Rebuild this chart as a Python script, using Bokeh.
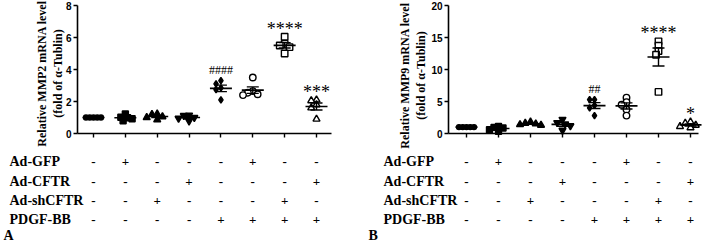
import numpy as np
from bokeh.plotting import figure
from bokeh.models import Range1d, FixedTicker, Label, LinearAxis
from bokeh.layouts import row
from bokeh.embed import file_html
from bokeh.resources import INLINE

# ---------------- data ----------------
groups = [1, 2, 3, 4, 5, 6, 7, 8]
row_names = ["Ad-GFP", "Ad-CFTR", "Ad-shCFTR", "PDGF-BB"]
ad_gfp    = ["-", "+", "-", "-", "-", "+", "-", "-"]
ad_cftr   = ["-", "-", "-", "+", "-", "-", "-", "+"]
ad_shcftr = ["-", "-", "+", "-", "-", "-", "+", "-"]
pdgf_bb   = ["-", "-", "-", "-", "+", "+", "+", "+"]

mmp2 = [
    [1.00, 1.00, 1.00, 1.00, 1.00],
    [1.22, 1.02, 0.98, 0.92, 0.80],
    [1.22, 1.20, 1.05, 1.00, 0.85],
    [1.15, 1.12, 1.00, 0.95, 0.78],
    [3.30, 3.10, 2.85, 2.75, 2.10],
    [3.50, 2.65, 2.55, 2.45, 2.40],
    [6.05, 5.60, 5.50, 5.40, 5.00],
    [2.10, 2.05, 1.80, 1.60, 0.90],
]
mmp2_marks = ["", "", "", "", "####", "", "****", "***"]
mmp2_ticks = [0, 2, 4, 6, 8]

mmp9 = [
    [1.00, 1.00, 1.00, 1.00, 1.00],
    [1.10, 0.95, 0.85, 0.60, 0.35],
    [1.80, 1.60, 1.50, 1.40, 1.30],
    [2.20, 1.70, 1.50, 1.20, 0.50],
    [5.30, 5.30, 4.40, 4.00, 2.80],
    [5.60, 4.90, 4.50, 3.75, 2.80],
    [14.4, 13.7, 12.9, 12.3, 6.50],
    [1.80, 1.60, 1.30, 1.10, 0.90],
]
mmp9_marks = ["", "", "", "", "##", "", "****", "*"]
mmp9_ticks = [0, 5, 10, 15, 20]

# ---------------- styles ----------------
markers = ["circle", "square", "triangle", "inverted_triangle", "diamond", "circle", "square", "triangle"]
filled = [True, True, True, True, True, False, False, False]
msizes = [5, 6, 7, 7, 6.5, 6.5, 6.5, 7]

SERIF = "Liberation Serif"
SANS = "Liberation Sans"
FIG_H = 243
Y0_PX = 133     # canvas y of value 0
YTOP_PX = 5     # canvas y of top tick


def swarm(vals, pxx, pxy, d):
    vals = np.asarray(vals, float)
    order = np.argsort(-vals, kind="stable")
    cands = sorted([k * d * 0.5 for k in range(-10, 11)], key=abs)
    placed = []
    offs = np.zeros(len(vals))
    for i in order:
        yp = vals[i] * pxy
        chosen = 0.0
        for c in cands:
            if all((c - xq) ** 2 + (yp - yq) ** 2 >= (0.9 * d) ** 2 for xq, yq in placed):
                chosen = c
                break
        placed.append((chosen, yp))
        offs[i] = chosen / pxx
    return offs


def lab(p, x, y, text, size, align="center", baseline="middle", bold=True, angle=0.0,
        font=SERIF, y_offset=0):
    p.add_layout(Label(x=x, y=y, text=text, text_align=align, text_baseline=baseline,
                       angle=angle, text_font=font, text_font_size=size,
                       text_font_style="bold" if bold else "normal",
                       text_color="black", y_offset=y_offset))


def make_panel(values, marks, ticks, width, g1_px, g8_px, axis_px, axis_end_px,
               ylab1, ylab2, yl1_px, yl2_px, yl_cy, rowlab_px, letter, letter_px):
    ymax = ticks[-1]
    pxx = (g8_px - g1_px) / (groups[-1] - groups[0])
    pxy = (Y0_PX - YTOP_PX) / ymax

    def px2x(px):
        return groups[0] + (px - g1_px) / pxx

    def py2y(py):
        return (Y0_PX - py) / pxy

    p = figure(width=width, height=FIG_H, output_backend="svg", toolbar_location=None,
               x_range=Range1d(px2x(0), px2x(width)), y_range=Range1d(py2y(FIG_H), py2y(0)),
               x_axis_type=None, y_axis_type=None,
               min_border_left=0, min_border_right=0, min_border_top=0, min_border_bottom=0)
    p.outline_line_color = None
    p.grid.visible = False
    p.background_fill_color = "white"
    p.border_fill_color = "white"

    x_axis_loc = px2x(axis_px)
    yax = LinearAxis(fixed_location=x_axis_loc, bounds=(0, ymax),
                     ticker=FixedTicker(ticks=ticks))
    xax = LinearAxis(fixed_location=0, bounds=(x_axis_loc, px2x(axis_end_px)),
                     ticker=FixedTicker(ticks=[], minor_ticks=groups))
    for ax in (xax, yax):
        ax.axis_line_width = 1.6
        ax.major_tick_line_width = 1.4
        ax.major_tick_out = 4
        ax.major_tick_in = 0
        ax.minor_tick_line_width = 1.4
        ax.minor_tick_out = 4
        ax.minor_tick_in = 0
    yax.minor_tick_line_color = None
    yax.major_label_text_font = SANS
    yax.major_label_text_font_style = "bold"
    yax.major_label_text_font_size = "10px"
    yax.major_label_text_color = "black"
    yax.major_label_standoff = 2
    p.add_layout(yax, "left")
    p.add_layout(xax, "below")

    # points, mean and SEM
    for gi, (g, vals) in enumerate(zip(groups, values)):
        v = np.asarray(vals, float)
        offs = swarm(v, pxx, pxy, msizes[gi] * 0.75)
        p.scatter(x=g + offs, y=v, marker=markers[gi], size=msizes[gi],
                  fill_color="black" if filled[gi] else "white",
                  line_color="black", line_width=1.4)
        m = v.mean()
        sem = v.std(ddof=1) / np.sqrt(len(v))
        hw = 11 / pxx
        cw = 6 / pxx
        p.segment(x0=[g - hw], x1=[g + hw], y0=[m], y1=[m], line_color="black", line_width=1.6)
        p.segment(x0=[g], x1=[g], y0=[m - sem], y1=[m + sem], line_color="black", line_width=1.4)
        p.segment(x0=[g - cw, g - cw], x1=[g + cw, g + cw], y0=[m - sem, m + sem],
                  y1=[m - sem, m + sem], line_color="black", line_width=1.4)
        if marks[gi]:
            star = "*" in marks[gi]
            lab(p, g, v.max(), marks[gi], "18px" if star else "12px", baseline="bottom",
                bold=False, y_offset=-2 if star else 4)

    # y axis label (two lines)
    lab(p, px2x(yl1_px), py2y(yl_cy), ylab1, "12px", angle=np.pi / 2)
    lab(p, px2x(yl2_px), py2y(yl_cy), ylab2, "12px", angle=np.pi / 2)

    # treatment table
    row_pys = [161, 181, 200, 219]
    for name, signs, py in zip(row_names, [ad_gfp, ad_cftr, ad_shcftr, pdgf_bb], row_pys):
        lab(p, px2x(rowlab_px), py2y(py), name, "14px", align="left")
        for g, s in zip(groups, signs):
            lab(p, g, py2y(py), s, "13px")
    lab(p, px2x(letter_px), py2y(235), letter, "14px", align="left")
    return p


pA = make_panel(mmp2, mmp2_marks, mmp2_ticks, width=353, g1_px=93, g8_px=316,
                axis_px=77, axis_end_px=331,
                ylab1="Relative MMP2 mRNA level", ylab2="(fold of α-Tublin)",
                yl1_px=41, yl2_px=57, yl_cy=73, rowlab_px=9, letter="A", letter_px=3)
pB = make_panel(mmp9, mmp9_marks, mmp9_ticks, width=352, g1_px=466 - 353, g8_px=690 - 353,
                axis_px=448 - 353, axis_end_px=698 - 353,
                ylab1="Relative MMP9 mRNA level", ylab2="(fold of α-Tublin)",
                yl1_px=404 - 353, yl2_px=420 - 353, yl_cy=75, rowlab_px=383 - 353,
                letter="B", letter_px=368 - 353)

layout = row(pA, pB)
open("out.html", "w").write(file_html(layout, INLINE))
